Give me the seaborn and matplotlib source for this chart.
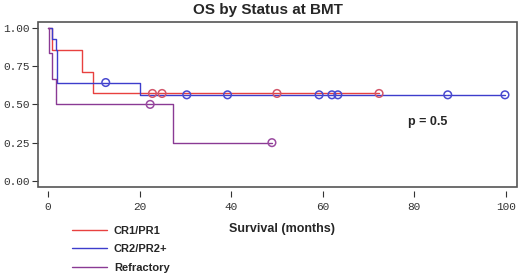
import numpy as np
import pandas as pd
import matplotlib
matplotlib.use("Agg")
import matplotlib.pyplot as plt
from matplotlib.patches import Rectangle
from matplotlib.lines import Line2D
import seaborn as sns

# survival times (months) and event flags (1 = death, 0 = censored)
cr1_time = [0.9, 7.4, 9.8, 22.8, 24.9, 50.0, 72.3]
cr1_event = [1, 1, 1, 0, 0, 0, 0]

cr2_time = [0.9, 1.8, 1.9, 1.9, 2.0, 12.6, 20.0, 30.3, 39.2, 59.2, 62.0, 63.3, 87.3, 99.8]
cr2_event = [1, 1, 1, 1, 1, 0, 1, 0, 0, 0, 0, 0, 0, 0]

ref_time = [0.2, 0.8, 1.7, 22.3, 27.2, 48.9]
ref_event = [1, 1, 1, 0, 1, 0]

groups = ["CR1/PR1", "CR2/PR2+", "Refractory"]
colors = {"CR1/PR1": "#e8413f", "CR2/PR2+": "#3d3dcc", "Refractory": "#8a3a94"}
censor_colors = {"CR1/PR1": "#d2566a", "CR2/PR2+": "#4a4ad0", "Refractory": "#9a4aa0"}
x_ticks = [0, 20, 40, 60, 80, 100]
y_ticks = [0, 0.25, 0.5, 0.75, 1.0]
y_labels = ["0.00", "0.25", "0.50", "0.75", "1.00"]
p_text = "p = 0.5"


def km(times, events, name):
    d = pd.DataFrame({"t": times, "e": events}).sort_values("t")
    n = len(d)
    s = 1.0
    steps = [(0.0, 1.0)]
    cens = []
    for t, g in d.groupby("t", sort=True):
        deaths = g["e"].sum()
        if deaths:
            s *= (n - deaths) / n
            steps.append((t, s))
        if (g["e"] == 0).any():
            cens += [(t, s)] * int((g["e"] == 0).sum())
        n -= len(g)
    steps.append((max(times), s))
    curve = pd.DataFrame(steps, columns=["time", "surv"])
    curve["group"] = name
    cdf = pd.DataFrame(cens, columns=["time", "surv"])
    cdf["group"] = name
    return curve, cdf


curves, censors = [], []
for name, t, e in zip(groups, [cr1_time, cr2_time, ref_time], [cr1_event, cr2_event, ref_event]):
    c, cc = km(t, e, name)
    curves.append(c)
    censors.append(cc)
curves = pd.concat(curves, ignore_index=True)
censors = pd.concat(censors, ignore_index=True)

sns.set_theme(style="white")
plt.rcParams["font.family"] = ["Liberation Sans", "DejaVu Sans"]

fig = plt.figure(figsize=(5.2, 2.74), dpi=100)
ax = fig.add_axes([0.073, 0.318, 0.921, 0.602])

for name in groups:
    sub = curves[curves.group == name]
    sns.lineplot(data=sub, x="time", y="surv", ax=ax, color=colors[name],
                 drawstyle="steps-post", estimator=None, sort=False, linewidth=1.0,
                 legend=False)
for name in groups:
    sub = censors[censors.group == name]
    sns.scatterplot(data=sub, x="time", y="surv", ax=ax, marker="o", s=30,
                    facecolors="none", edgecolor=censor_colors[name], linewidth=1.1,
                    legend=False, zorder=5)

ax.set_xlabel("")
ax.set_ylabel("")

# frame as box, x ticks pushed below it
for sp in ax.spines.values():
    sp.set_visible(False)
ax.spines["bottom"].set_position(("outward", 3))
ax.add_patch(Rectangle((0, 0), 1, 1, transform=ax.transAxes, fill=False,
                       edgecolor="#555555", linewidth=1.2, clip_on=False, zorder=10))

ax.set_xlim(-2.2, 102.4)
ax.set_ylim(-0.039, 1.039)
ax.set_xticks(x_ticks)
ax.set_xticklabels([str(v) for v in x_ticks], fontfamily="Liberation Mono",
                   fontsize=8, color="#333333")
ax.set_yticks(y_ticks)
ax.set_yticklabels(y_labels, fontfamily="Liberation Mono", fontsize=8, color="#333333")
ax.tick_params(axis="both", which="both", direction="out", length=4, width=0.8,
               color="#333333", bottom=True, left=True)
ax.tick_params(axis="x", pad=4)
ax.tick_params(axis="y", pad=2)

fig.text(0.515, 0.963, "OS by Status at BMT", ha="center", va="center",
         fontsize=11, fontweight="bold")
fig.text(0.542, 0.163, "Survival (months)", ha="center", va="center",
         fontsize=9, fontweight="bold")
fig.text(0.822, 0.555, p_text, ha="center", va="center", fontsize=9,
         fontweight="bold")

handles = [Line2D([], [], color=colors[g], linewidth=1.0) for g in groups]
fig.legend(handles, groups, loc="upper left", bbox_to_anchor=(0.138, 0.177),
           frameon=False, handlelength=3.2, labelspacing=0.78, handletextpad=0.6,
           borderaxespad=0, borderpad=0, prop={"size": 8, "weight": "bold"})

fig.savefig("out.png", dpi=100)
